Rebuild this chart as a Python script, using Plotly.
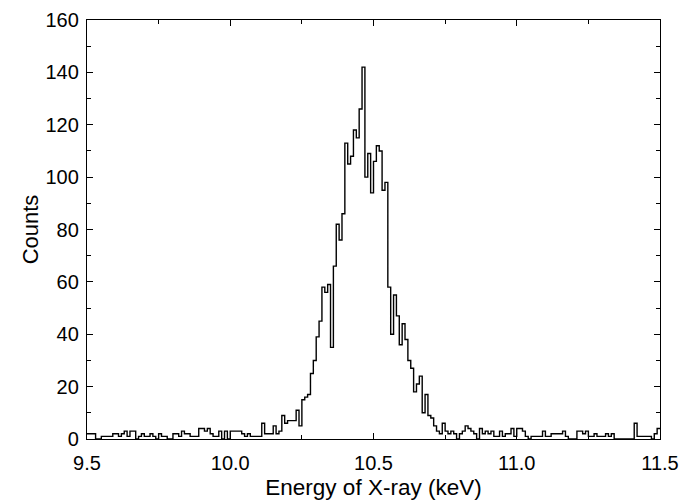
import plotly.graph_objects as go

# Histogram of X-ray energies: bin left edges from 9.50 keV, width 0.01 keV
bin_start = 9.50
bin_width = 0.01
counts = [
    2, 2, 2, 0, 0, 1, 1, 1, 1, 2,
    2, 1, 2, 3, 1, 3, 3, 0, 1, 2,
    1, 1, 2, 1, 0, 2, 1, 1, 0, 0,
    2, 2, 1, 3, 2, 2, 1, 1, 1, 4,
    4, 3, 4, 2, 1, 1, 3, 0, 3, 0,
    3, 3, 3, 3, 2, 1, 2, 1, 1, 1,
    1, 6, 2, 2, 2, 5, 2, 3, 9, 6,
    7, 7, 7, 11, 5, 15, 16, 17, 25, 30,
    39, 45, 58, 56, 59, 35, 66, 82, 76, 86,
    113, 105, 108, 118, 115, 126, 142, 100, 109, 94,
    106, 112, 110, 95, 98, 58, 40, 55, 47, 36,
    44, 38, 30, 27, 18, 21, 24, 10, 17, 9,
    8, 5, 3, 2, 6, 3, 2, 3, 2, 0,
    2, 3, 5, 4, 3, 2, 0, 4, 2, 3,
    2, 3, 1, 1, 3, 1, 2, 2, 4, 1,
    4, 4, 3, 1, 0, 1, 1, 1, 1, 3,
    1, 1, 2, 2, 2, 2, 3, 1, 0, 0,
    0, 3, 3, 2, 3, 1, 1, 2, 1, 1,
    1, 2, 1, 2, 0, 0, 0, 0, 0, 0,
    0, 6, 1, 1, 1, 1, 1, 0, 2, 4,
]
x_ticks = [9.5, 10.0, 10.5, 11.0, 11.5]
x_tick_labels = ["9.5", "10.0", "10.5", "11.0", "11.5"]
y_ticks = [0, 20, 40, 60, 80, 100, 120, 140, 160]

edges = [round(bin_start + i * bin_width, 4) for i in range(len(counts) + 1)]
xs = edges
ys = counts + [counts[-1]]

fig = go.Figure()
fig.add_trace(go.Scatter(
    x=xs, y=ys, mode="lines", line=dict(shape="hv", color="black", width=1.4),
    showlegend=False, hoverinfo="skip",
))

font_family = "Liberation Sans, Arial, sans-serif"
axis_common = dict(
    showline=True, linecolor="black", linewidth=1.3, mirror="ticks",
    ticks="inside", ticklen=6, tickwidth=1.2, tickcolor="black",
    showgrid=False, zeroline=False, automargin=False,
    ticklabeloverflow="allow",
    tickfont=dict(family=font_family, size=20, color="black"),
)

fig.update_xaxes(
    range=[9.5, 11.5], tickvals=x_ticks, ticktext=x_tick_labels,
    ticklabelstandoff=6,
    minor=dict(ticks="inside", ticklen=3.5, dtick=0.25, tickcolor="black", tickwidth=1.2),
    title=dict(text="Energy of X-ray (keV)", font=dict(family=font_family, size=22.5, color="black"), standoff=9),
    **axis_common,
)
fig.update_yaxes(
    range=[0, 160], tickvals=y_ticks,
    ticklabelstandoff=3,
    minor=dict(ticks="inside", ticklen=3.5, dtick=10, tickcolor="black", tickwidth=1.2),
    title=dict(text="Counts", font=dict(family=font_family, size=22, color="black"), standoff=0),
    **axis_common,
)

fig.update_layout(
    width=689, height=492,
    margin=dict(l=79, r=37, t=12, b=61),
    plot_bgcolor="white", paper_bgcolor="white",
)

fig.write_html("out.html")
